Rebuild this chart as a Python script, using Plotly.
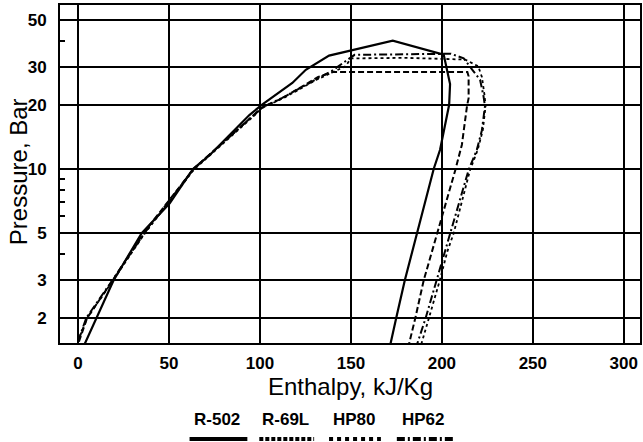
import plotly.graph_objects as go

# ---- data (enthalpy kJ/kg, pressure bar) ----
r502_h = [3.8, 10.2, 19.5, 35, 50.4, 63.2, 72.3, 94.2, 101, 117.8, 125.2, 138, 154.4, 173,
          201, 203, 204.5, 204, 201, 199, 195.5, 186.4, 183.5, 179.6, 174.9, 171.8]
r502_p = [1.52, 2, 3, 5, 6.9, 10, 11.6, 17.9, 20, 25.3, 29.2, 34, 36.6, 40,
          34.4, 29, 25, 20, 15.2, 12.3, 10, 5, 4.1, 3, 2, 1.52]

r69l_h = [0.5, 5, 19, 36, 63.5, 101.5, 112.4, 122, 132, 140, 175, 214, 214.7, 214.7,
          213.8, 211, 207.4, 197.5, 194.5, 190, 185.4, 182]
r69l_p = [1.55, 2, 3, 5, 10, 19.5, 21.5, 24, 27, 28.5, 28.6, 28.5, 27.2, 21.5,
          19.7, 13, 9.9, 5, 4, 3, 2, 1.52]

hp80_h = [0, 5, 19.2, 36.8, 64, 102, 113, 131, 147, 150, 180, 212.8, 220, 222, 223.5,
          224, 222.5, 219.7, 215.5, 206.5, 203, 198.6, 192.8, 188.7]
hp80_p = [1.56, 2, 3, 5, 10, 19.5, 21.5, 26.2, 30.3, 33, 33.2, 32.6, 30.3, 27, 22,
          19.7, 15.2, 12.3, 9.9, 5, 4.1, 2.95, 1.99, 1.51]

hp62_h = [0, 4.5, 18.8, 36.5, 63.5, 101.5, 112, 130.7, 140, 147, 152, 205, 212, 217.4,
          221, 222.9, 223.7, 222, 219.2, 214.7, 204.5, 201.5, 196.6, 191, 186.4]
hp62_p = [1.55, 2, 3, 5, 10, 19.5, 21.5, 26.2, 29, 32, 34.3, 34.7, 33, 28.7,
          26.2, 21.9, 19.7, 15.2, 12.3, 9.9, 5, 4.1, 2.95, 1.99, 1.51]

series_names = ["R-502", "R-69L", "HP80", "HP62"]
x_ticks = [0, 50, 100, 150, 200, 250, 300]
y_ticks = [2, 3, 5, 10, 20, 30, 50]
y_minor = [4, 6, 7, 8, 9, 40]

styles = [
    dict(color="black", width=2.2, dash="solid"),
    dict(color="black", width=2.0, dash="6px,3px"),
    dict(color="black", width=1.8, dash="dot"),
    dict(color="black", width=2.0, dash="8px,3px,2px,3px"),
]

fig = go.Figure()
for name, h, p, st in zip(series_names,
                          [r502_h, r69l_h, hp80_h, hp62_h],
                          [r502_p, r69l_p, hp80_p, hp62_p], styles):
    fig.add_trace(go.Scatter(x=h, y=p, mode="lines", name=name, line=st,
                             showlegend=False, hoverinfo="skip"))

tickfont = dict(family="Liberation Sans", size=17, color="black", weight="bold")

fig.update_layout(
    width=643, height=442, autosize=False,
    margin=dict(l=60, r=1, t=5, b=99),
    paper_bgcolor="white", plot_bgcolor="white",
    showlegend=False,
    xaxis=dict(range=[-9.9, 308.9], tickvals=x_ticks, ticktext=[str(v) for v in x_ticks],
               showgrid=True, gridcolor="black", gridwidth=1.5, zeroline=False,
               showline=True, linecolor="black", linewidth=2, mirror=True,
               ticks="outside", ticklen=4, tickcolor="white", tickwidth=1,
               tickfont=tickfont),
    yaxis=dict(type="log", range=[0.184, 1.769], tickvals=y_ticks,
               ticktext=[str(v) for v in y_ticks],
               showgrid=True, gridcolor="black", gridwidth=2, zeroline=False,
               showline=True, linecolor="black", linewidth=2, mirror=True,
               ticks="outside", ticklen=8, tickcolor="white", tickwidth=1,
               tickfont=tickfont,
               minor=dict(tickvals=y_minor, ticks="inside", ticklen=5,
                          tickcolor="black", tickwidth=1.5, showgrid=False)),
)

title_font = dict(family="Liberation Sans", size=24, color="black")
fig.add_annotation(text="Pressure, Bar", textangle=-90, xref="paper", yref="paper",
                   x=-0.0704, y=0.506, xanchor="center", yanchor="middle",
                   showarrow=False, font=title_font)
fig.add_annotation(text="Enthalpy, kJ/Kg", xref="paper", yref="paper",
                   x=0.5, y=-0.13, xanchor="center", yanchor="middle",
                   showarrow=False, font=title_font)

# legend: labels above line samples
label_px = [218, 286, 356, 425]
sample_px = [(190, 248), (260, 315), (330, 382), (398, 455)]
sample_dash = ["solid", "4px,2px", "dot", "8px,3px,2px,3px"]
legend_font = dict(family="Liberation Sans", size=17, color="black", weight="bold")
for name, lx, (sx0, sx1), dsh in zip(series_names, label_px, sample_px, sample_dash):
    fig.add_annotation(text=name, xref="paper", yref="paper",
                       x=(lx - 60) / 582, y=(343 - 419) / 338,
                       xanchor="center", yanchor="middle", showarrow=False,
                       font=legend_font)
    fig.add_shape(type="line", xref="paper", yref="paper",
                  x0=(sx0 - 60) / 582, x1=(sx1 - 60) / 582,
                  y0=(343 - 439) / 338, y1=(343 - 439) / 338,
                  line=dict(color="black", width=4, dash=dsh))

fig.write_html("out.html")
